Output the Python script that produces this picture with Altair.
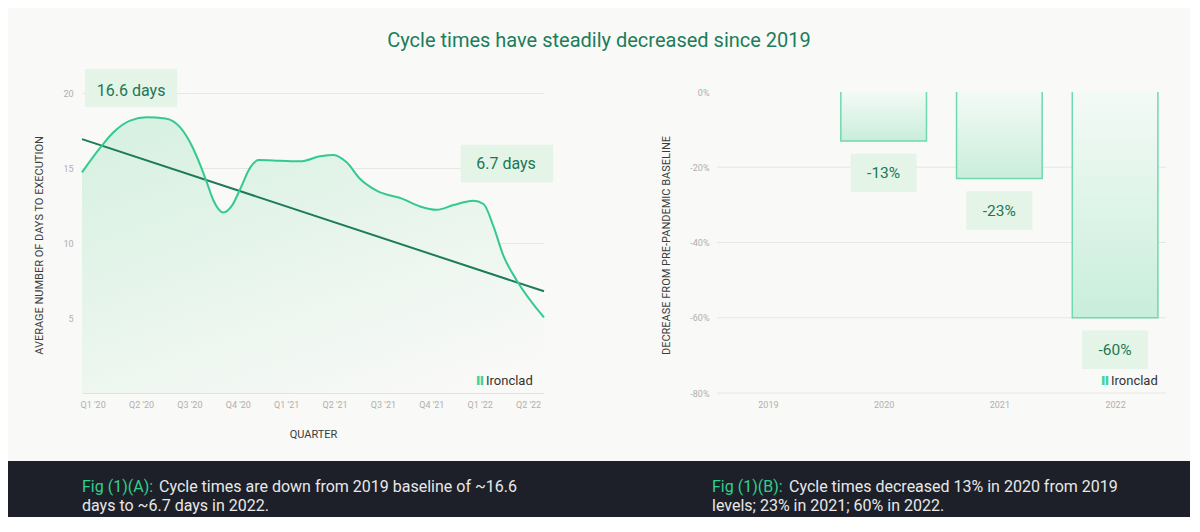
import json
import altair as alt
import pandas as pd

# ---------------- data ----------------
TITLE = "Cycle times have steadily decreased since 2019"

quarters = ["Q1 '20", "Q2 '20", "Q3 '20", "Q4 '20", "Q1 '21",
            "Q2 '21", "Q3 '21", "Q4 '21", "Q1 '22", "Q2 '22"]
quarter_pos = list(range(len(quarters)))

curve_x = [-0.22, 0.19, 0.43, 0.775, 1.12, 1.50, 1.81, 2.05, 2.23, 2.36, 2.50,
           2.70, 2.88, 3.05, 3.26, 3.43, 3.87, 4.29, 4.70, 4.98, 5.25, 5.53,
           5.87, 6.42, 6.77, 7.11, 7.46, 7.87, 8.08, 8.28, 8.49, 8.77, 9.33]
curve_y = [14.71, 16.49, 17.38, 18.16, 18.38, 18.31, 17.71, 16.49, 15.16, 14.04,
           12.82, 12.04, 12.49, 13.60, 15.04, 15.53, 15.49, 15.45, 15.78, 15.87,
           15.38, 14.27, 13.49, 12.93, 12.44, 12.22, 12.53, 12.82, 12.60, 11.16,
           9.16, 7.49, 5.04]

trend_x = [-0.22, 9.33]
trend_y = [16.93, 6.78]

ann_left_text = ["16.6 days", "6.7 days"]
ann_left_x = [0.795, 8.545]
ann_left_y = [20.13, 15.27]
ann_left_x0 = [-0.155, 7.61]
ann_left_x1 = [1.746, 9.52]
ann_left_y0 = [19.07, 14.05]
ann_left_y1 = [21.60, 16.55]

years = [2019, 2020, 2021, 2022]
decrease = [0, -13, -23, -60]
decrease_labels = ["0%", "-13%", "-23%", "-60%"]
right_ticks = [0, -20, -40, -60, -80]
right_grid = [-20, -40, -60, -80]

footer_a_lead = "Fig (1)(A):"
footer_a_line1 = "Cycle times are down from 2019 baseline of ~16.6"
footer_a_line2 = "days to ~6.7 days in 2022."
footer_b_lead = "Fig (1)(B):"
footer_b_line1 = "Cycle times decreased 13% in 2020 from 2019"
footer_b_line2 = "levels; 23% in 2021; 60% in 2022."

# ---------------- style ----------------
BG = "#f9f9f7"
FONT = "Roboto"
GREEN_LINE = "#34c98e"
DARK_GREEN = "#1d7a5a"
BOX_FILL = "#e4f4e6"
BOX_TEXT = "#1b7756"
GRID = "#e6e6e2"
LABEL = "#b0b0ac"
AXTITLE = "#3c3c3c"
FOOT_BG = "#1d2029"
FOOT_GREEN = "#2fd08d"
FOOT_TEXT = "#e8e8e8"

W1, W2, H = 462, 449, 325

one = pd.DataFrame({"a": [0]})

# ---------------- left chart ----------------
xs = alt.Scale(domain=[-0.22, 9.33], nice=False, zero=False)
ys = alt.Scale(domain=[0, 21.67], nice=False)

x_axis_l = alt.Axis(values=quarter_pos, labelExpr=json.dumps(quarters) + "[datum.value]",
                    title="QUARTER", grid=False, ticks=False, domainColor="#e2e2de",
                    labelColor=LABEL, labelFontSize=9, labelFont=FONT, labelPadding=7,
                    titleColor=AXTITLE, titleFontSize=11, titleFont=FONT,
                    titleFontWeight="normal", titlePadding=19)
y_axis_l = alt.Axis(values=[5, 10, 15, 20], title="AVERAGE NUMBER OF DAYS TO EXECUTION",
                    grid=True, gridColor=GRID, domain=False, ticks=False,
                    labelColor=LABEL, labelFontSize=9, labelFont=FONT, labelPadding=9,
                    titleColor=AXTITLE, titleFontSize=11, titleFont=FONT,
                    titleFontWeight="normal", titlePadding=18, titleY=177)

curve_df = pd.DataFrame({"q": curve_x, "days": curve_y})
trend_df = pd.DataFrame({"q": trend_x, "days": trend_y})
annl_df = pd.DataFrame({"t": ann_left_text, "x": ann_left_x, "y": ann_left_y,
                        "x0": ann_left_x0, "x1": ann_left_x1,
                        "y0": ann_left_y0, "y1": ann_left_y1})

area_grad = alt.LinearGradient(
    gradient="linear",
    stops=[alt.GradientStop(color="#d8f1e2", offset=0),
           alt.GradientStop(color=BG, offset=1)],
    x1=0.2, y1=0, x2=0.8, y2=1)

area = alt.Chart(curve_df).mark_area(interpolate="monotone", fill=area_grad).encode(
    x=alt.X("q:Q", scale=xs, axis=x_axis_l),
    y=alt.Y("days:Q", scale=ys, axis=y_axis_l),
)
curve = alt.Chart(curve_df).mark_line(interpolate="monotone", color=GREEN_LINE,
                                      strokeWidth=2).encode(
    x=alt.X("q:Q", scale=xs, axis=x_axis_l),
    y=alt.Y("days:Q", scale=ys, axis=y_axis_l),
)
trend = alt.Chart(trend_df).mark_line(color=DARK_GREEN, strokeWidth=2).encode(
    x=alt.X("q:Q", scale=xs, axis=x_axis_l),
    y=alt.Y("days:Q", scale=ys, axis=y_axis_l),
)
annl_box = alt.Chart(annl_df).mark_rect(color=BOX_FILL).encode(
    x=alt.X("x0:Q", scale=xs, axis=x_axis_l), x2="x1:Q",
    y=alt.Y("y0:Q", scale=ys, axis=y_axis_l), y2="y1:Q",
)
annl_txt = alt.Chart(annl_df).mark_text(font=FONT, fontSize=16, color=BOX_TEXT,
                                        baseline="middle").encode(
    x=alt.X("x:Q", scale=xs, axis=x_axis_l),
    y=alt.Y("y:Q", scale=ys, axis=y_axis_l),
    text="t:N",
)
logo_l_icon = alt.Chart(one).mark_text(text="Ⅱ", font="DejaVu Sans", fontSize=13,
                                       fontWeight="bold", color="#3fd4a0",
                                       baseline="middle").encode(
    x=alt.value(398), y=alt.value(313))
logo_l_txt = alt.Chart(one).mark_text(text="Ironclad", font=FONT, fontSize=13,
                                      color="#333333", align="left",
                                      baseline="middle").encode(
    x=alt.value(404), y=alt.value(313))

foot_l = alt.Chart(one).mark_rect(color=FOOT_BG).encode(
    x=alt.value(-74), x2=alt.value(518), y=alt.value(393), y2=alt.value(449))
foot_l_lead = alt.Chart(one).mark_text(text=footer_a_lead, font=FONT, fontSize=16,
                                       color=FOOT_GREEN, align="left",
                                       baseline="middle").encode(
    x=alt.value(0), y=alt.value(419))
foot_l_1 = alt.Chart(one).mark_text(text=footer_a_line1, font=FONT, fontSize=16,
                                    color=FOOT_TEXT, align="left",
                                    baseline="middle").encode(
    x=alt.value(77), y=alt.value(419))
foot_l_2 = alt.Chart(one).mark_text(text=footer_a_line2, font=FONT, fontSize=16,
                                    color=FOOT_TEXT, align="left",
                                    baseline="middle").encode(
    x=alt.value(0), y=alt.value(438))

left = alt.layer(area, trend, curve, annl_box, annl_txt, logo_l_icon, logo_l_txt,
                 foot_l, foot_l_lead, foot_l_1, foot_l_2).properties(width=W1, height=H)

# ---------------- right chart ----------------
xr = alt.Scale(domain=[2018.56, 2022.44], nice=False, zero=False)
yr = alt.Scale(domain=[-80, 6.38], nice=False, zero=False)

x_axis_r = alt.Axis(values=years, format="d", title=None, grid=False, ticks=False,
                    domain=False, labelColor=LABEL, labelFontSize=9, labelFont=FONT,
                    labelPadding=7)
y_axis_r = alt.Axis(values=right_ticks, labelExpr="datum.value + '%'",
                    title="DECREASE FROM PRE-PANDEMIC BASELINE", grid=False,
                    domain=False, ticks=False, labelColor=LABEL, labelFontSize=9,
                    labelFont=FONT, labelPadding=8, titleColor=AXTITLE,
                    titleFontSize=11, titleFont=FONT, titleFontWeight="normal",
                    titlePadding=18, titleY=177)

grid_df = pd.DataFrame({"g": right_grid})
bars_df = pd.DataFrame({"year": years, "dec": decrease, "label": decrease_labels})
bars_df = bars_df[bars_df["dec"] < 0].reset_index(drop=True)

HALF = 0.37
outline_rows = []
for yv, dv in zip(bars_df["year"], bars_df["dec"]):
    for o, (px, py) in enumerate([(yv - HALF, 0), (yv - HALF, dv),
                                  (yv + HALF, dv), (yv + HALF, 0)]):
        outline_rows.append({"year": yv, "o": o, "px": px, "py": py})
outline_df = pd.DataFrame(outline_rows)

bar_grad = alt.LinearGradient(
    gradient="linear",
    stops=[alt.GradientStop(color="#f4faf6", offset=0),
           alt.GradientStop(color="#c9eedb", offset=1)],
    x1=0, y1=0, x2=0, y2=1)

grid_r = alt.Chart(grid_df).mark_rule(color=GRID, strokeWidth=1).encode(
    y=alt.Y("g:Q", scale=yr, axis=y_axis_r))

bars_base = alt.Chart(bars_df).transform_calculate(
    x0="datum.year - 0.37", x1="datum.year + 0.37",
    lx0="datum.year - 0.285", lx1="datum.year + 0.285",
    b0="datum.dec - 3.4", b1="datum.dec - 13.6", ty="datum.dec - 8.5",
    zero="0")

bars = bars_base.mark_rect(fill=bar_grad).encode(
    x=alt.X("x0:Q", scale=xr, axis=x_axis_r), x2="x1:Q",
    y=alt.Y("dec:Q", scale=yr, axis=y_axis_r), y2="zero:Q")

outline = alt.Chart(outline_df).mark_line(color="#6fd9b0", strokeWidth=1.5).encode(
    x=alt.X("px:Q", scale=xr, axis=x_axis_r),
    y=alt.Y("py:Q", scale=yr, axis=y_axis_r),
    detail="year:N", order="o:Q")

lab_box = bars_base.mark_rect(color=BOX_FILL).encode(
    x=alt.X("lx0:Q", scale=xr, axis=x_axis_r), x2="lx1:Q",
    y=alt.Y("b0:Q", scale=yr, axis=y_axis_r), y2="b1:Q")

lab_txt = bars_base.mark_text(font=FONT, fontSize=15.5, color=BOX_TEXT,
                              baseline="middle").encode(
    x=alt.X("year:Q", scale=xr, axis=x_axis_r),
    y=alt.Y("ty:Q", scale=yr, axis=y_axis_r),
    text="label:N")

logo_r_icon = alt.Chart(one).mark_text(text="Ⅱ", font="DejaVu Sans", fontSize=13,
                                       fontWeight="bold", color="#3fd4a0",
                                       baseline="middle").encode(
    x=alt.value(388), y=alt.value(313))
logo_r_txt = alt.Chart(one).mark_text(text="Ironclad", font=FONT, fontSize=13,
                                      color="#333333", align="left",
                                      baseline="middle").encode(
    x=alt.value(394), y=alt.value(313))

foot_r = alt.Chart(one).mark_rect(color=FOOT_BG).encode(
    x=alt.value(-117), x2=alt.value(473), y=alt.value(393), y2=alt.value(449))
foot_r_lead = alt.Chart(one).mark_text(text=footer_b_lead, font=FONT, fontSize=16,
                                       color=FOOT_GREEN, align="left",
                                       baseline="middle").encode(
    x=alt.value(-5), y=alt.value(419))
foot_r_1 = alt.Chart(one).mark_text(text=footer_b_line1, font=FONT, fontSize=16,
                                    color=FOOT_TEXT, align="left",
                                    baseline="middle").encode(
    x=alt.value(72), y=alt.value(419))
foot_r_2 = alt.Chart(one).mark_text(text=footer_b_line2, font=FONT, fontSize=16,
                                    color=FOOT_TEXT, align="left",
                                    baseline="middle").encode(
    x=alt.value(-5), y=alt.value(438))

right = alt.layer(grid_r, bars, outline, lab_box, lab_txt, logo_r_icon, logo_r_txt,
                  foot_r, foot_r_lead, foot_r_1, foot_r_2).properties(width=W2, height=H)

chart = alt.hconcat(left, right, spacing=0).properties(
    title=alt.Title(TITLE, font=FONT, fontSize=20, fontWeight="normal",
                    color="#1a7d5c", anchor="middle", offset=17),
    padding={"top": 23, "left": 0, "right": 0, "bottom": 0},
    background=BG,
).configure_view(stroke=None)

chart.save("out.html", embed_options={"renderer": "svg", "actions": False})
